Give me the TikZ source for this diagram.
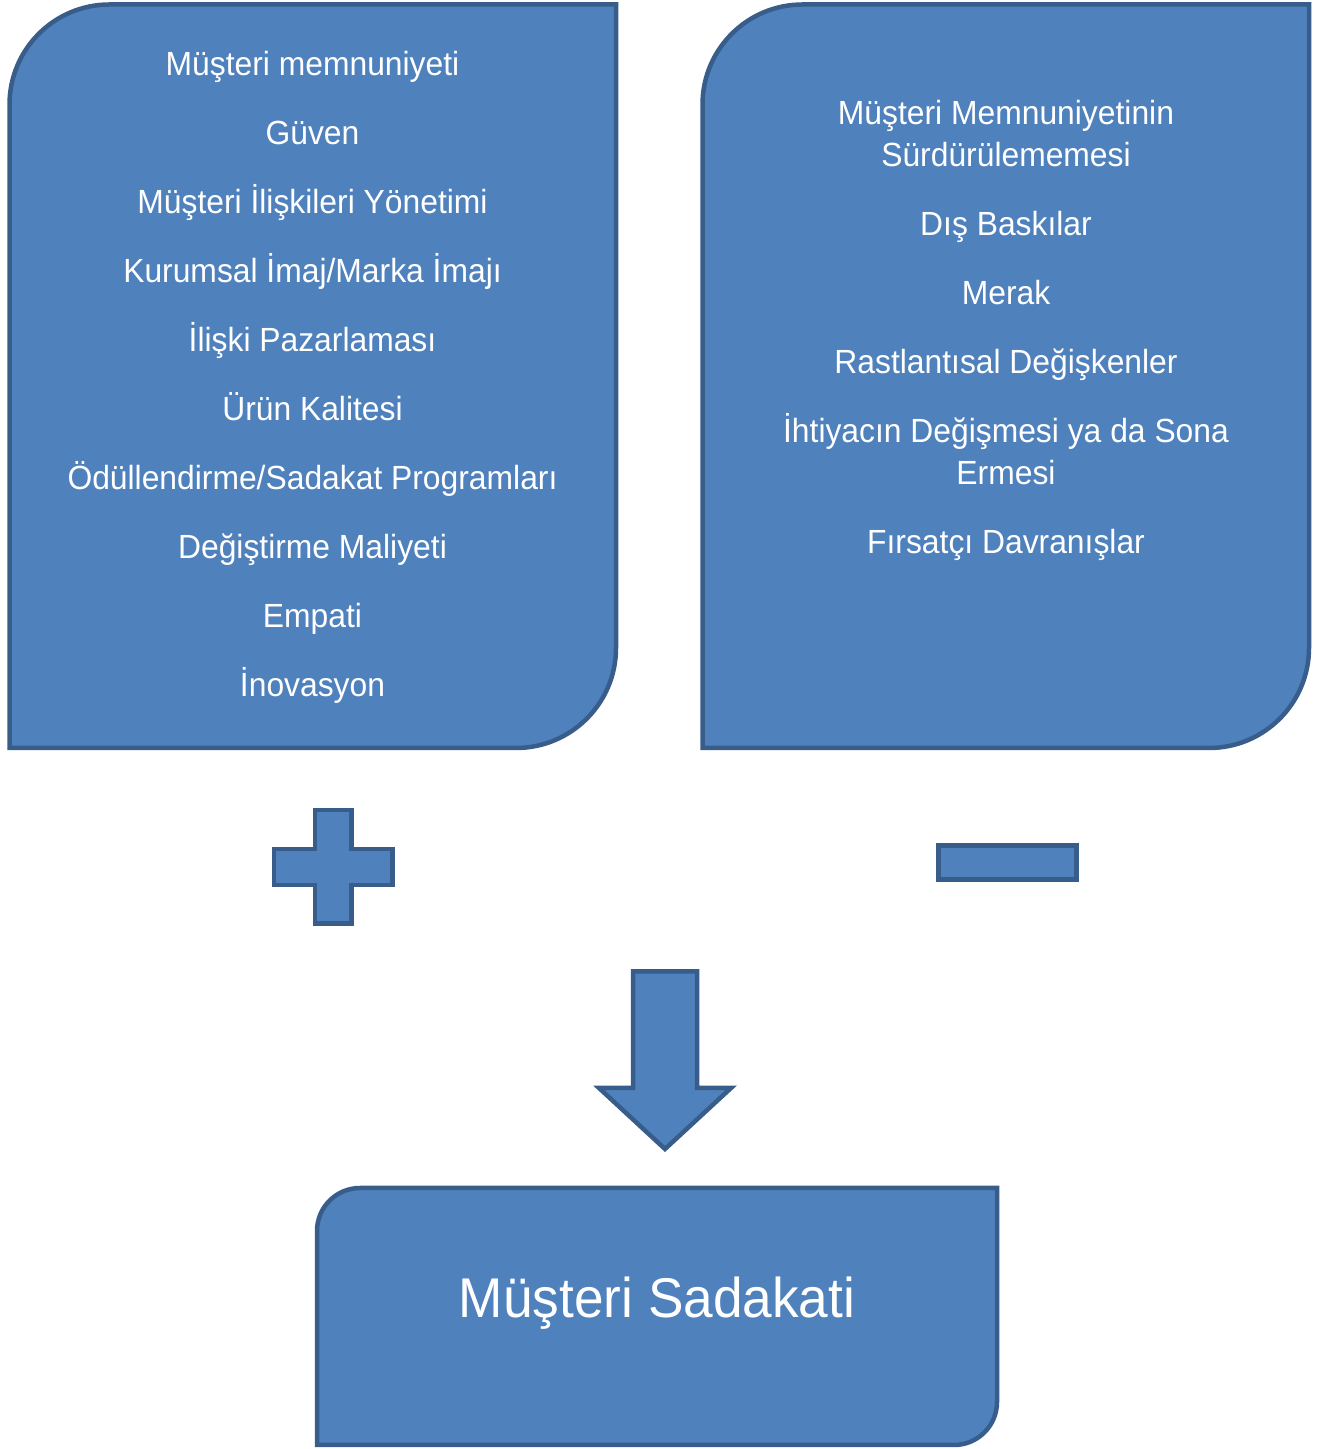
\documentclass[tikz,border=0pt]{standalone}
\usepackage{fontspec}
\setmainfont{Liberation Sans}[FakeStretch=0.95]
\usetikzlibrary{positioning}
\definecolor{panelfill}{HTML}{4F81BD}
\definecolor{panelline}{HTML}{385D8A}

\begin{document}
\begin{tikzpicture}[
			x=1pt, y=1pt
			,panel/.style={fill=panelfill, draw=panelline, line width=4.5pt, line join=miter}
			,item/.style={text=white, font=\fontsize{33.5}{42}\selectfont, align=center, anchor=base, inner sep=0pt}
			,big/.style={text=white, font=\fontsize{56}{64}\selectfont, anchor=base, inner sep=0pt}
		]
			\useasboundingbox (0,0) rectangle (1321,1449);
			% plus side
			\draw [panel] (9.5,701) -- (9.5,1344.5) arc[start angle=180, end angle=90, radius=100]
				-- (616,1444.5) -- (616,801) arc[start angle=0, end angle=-90, radius=100] -- cycle;
			\foreach \txt [count=\i from 0] in {Müşteri memnuniyeti, Güven, Müşteri İlişkileri Yönetimi,
				{Kurumsal İmaj/Marka İmajı}, İlişki Pazarlaması, Ürün Kalitesi,
				{Ödüllendirme/Sadakat Programları}, Değiştirme Maliyeti, Empati, İnovasyon}
				\node [item] (pos\i) at (312.5,1373-69*\i) {\txt};
			% minus side (base = last line)
			\draw [panel] (702.5,701) -- (702.5,1344.5) arc[start angle=180, end angle=90, radius=100]
				-- (1309,1444.5) -- (1309,801) arc[start angle=0, end angle=-90, radius=100] -- cycle;
			\node [item] (neg1) at (1006,1282) {Müşteri Memnuniyetinin\\Sürdürülememesi};
			\node [item] (neg2) at (1006,1213) {Dış Baskılar};
			\node [item] (neg3) at (1006,1144) {Merak};
			\node [item] (neg4) at (1006,1075) {Rastlantısal Değişkenler};
			\node [item] (neg5) at (1006,964) {İhtiyacın Değişmesi ya da Sona\\Ermesi};
			\node [item] (neg6) at (1006,895) {Fırsatçı Davranışlar};
			% signs
			\draw [panel] (315,639) -- (351.5,639) -- (351.5,600) -- (392.5,600) -- (392.5,564)
				-- (351.5,564) -- (351.5,525.5) -- (315,525.5) -- (315,564) -- (274,564)
				-- (274,600) -- (315,600) -- cycle;
			\draw [panel] (938.3,569.6) rectangle (1076.4,603.4);
			% arrow down
			\draw [panel] (633,477.5) -- (697,477.5) -- (697,361) -- (731,361) -- (665,300)
				-- (599,361) -- (633,361) -- cycle;
			% result
			\draw [panel] (317,4) -- (317,218) arc[start angle=180, end angle=90, radius=43]
				-- (997,261) -- (997,47) arc[start angle=0, end angle=-90, radius=43] -- cycle;
			\node [big] (loyal) at (657,131) {Müşteri Sadakati};
		\end{tikzpicture}
\end{document}
